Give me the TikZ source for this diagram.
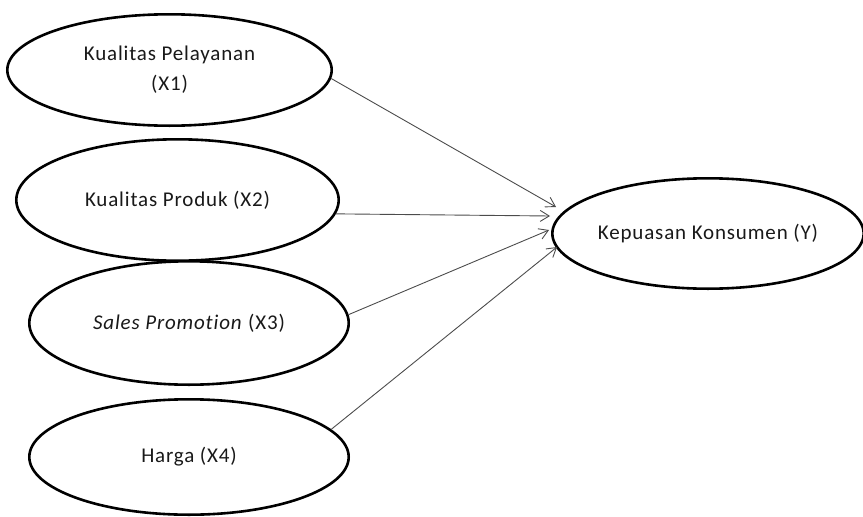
\documentclass[tikz,border=0pt]{standalone}
\usepackage{fontspec}
\usetikzlibrary{shapes.geometric,arrows.meta,calc}
\newfontfamily\diagfont[LetterSpace=4,RawFeature=-liga]{Carlito}
\begin{document}
\begin{tikzpicture}[x=1pt,y=-1pt,
  ell/.style={ellipse,draw=black,line width=2.6pt,inner sep=0pt,
    align=center,text=black!90,font=\diagfont\fontsize{21}{30}\selectfont},
  conn/.style={draw=black!70,line width=0.9pt,
    -{Straight Barb[length=9pt,width=11pt,line width=0.9pt]}}]
\useasboundingbox (0,0) rectangle (863,517);
\node[ell,minimum width=324.4pt,minimum height=111.4pt] (e1) at (169.5,70) {Kualitas Pelayanan\\(X1)};
\node[ell,minimum width=322.4pt,minimum height=121.4pt] (e2) at (177.5,200) {Kualitas Produk (X2)};
\node[ell,minimum width=319.4pt,minimum height=123.4pt] (e3) at (189,323) {\textit{Sales Promotion} (X3)};
\node[ell,minimum width=319.4pt,minimum height=115.4pt] (e4) at (189,457) {Harga (X4)};
\node[ell,minimum width=305.4pt,minimum height=110.4pt] (y) at (708,233.5) {Kepuasan Konsumen (Y)};
\coordinate (t1) at ([xshift=5pt,yshift=26.5pt]y.west);
\coordinate (t2) at ([xshift=-1pt,yshift=17.5pt]y.west);
\coordinate (t3) at ([xshift=-2pt,yshift=3.5pt]y.west);
\coordinate (t4) at ([xshift=6pt,yshift=-13.5pt]y.west);
\draw[conn] (e1.-3) -- (t1);
\draw[conn] (e2.-5.7) -- (t2);
\draw[conn] (e3.3.6) -- (t3);
\draw[conn] (e4.11.8) -- (t4);
\end{tikzpicture}
\end{document}
